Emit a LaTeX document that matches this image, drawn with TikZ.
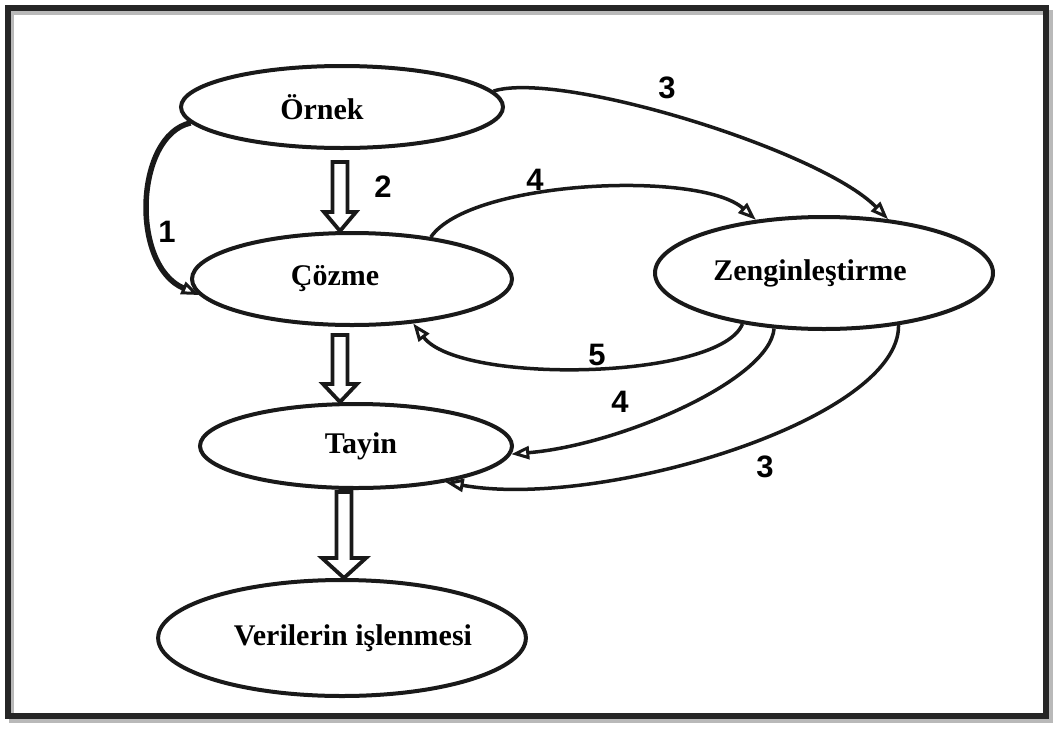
\documentclass[tikz,border=0pt]{standalone}
\usepackage{fontspec}
\setmainfont{Liberation Serif}
\newfontfamily\lsans{Liberation Sans}
\usetikzlibrary{shapes.geometric,arrows.meta,calc}
\tikzset{
  oval/.style={ellipse, draw=black!90, line width=4pt, inner sep=0pt,
    font=\fontsize{30}{30}\selectfont\bfseries},
  conn/.style={draw=black!90, line width=3.5pt,
    -{Triangle[open, length=18pt, width=13pt, line width=3pt]}},
  num/.style={font=\lsans\fontsize{31}{31}\selectfont\bfseries, inner sep=0pt},
  blockline/.style={draw=black!90, line width=3.8pt, fill=white, line join=miter},
}
\newcommand\blockarr[4]{% start, end, head half width, head length
  \draw[blockline] let \p1=(#1), \p2=(#2) in
    (\x1-7.5pt,\y1) -- (\x1-7.5pt,\y2+#4) -- (\x1-#3,\y2+#4) -- (\x2,\y2)
    -- (\x1+#3,\y2+#4) -- (\x1+7.5pt,\y2+#4) -- (\x1+7.5pt,\y1) -- cycle;}
\begin{document}
\begin{tikzpicture}[x=1pt,y=-1pt]
\useasboundingbox (0,0) rectangle (1058,729);
% frame
\draw[gray!55, line width=5pt] (11,12) rectangle (1050,720);
\draw[black!85, line width=6pt] (8,8) rectangle (1046,716);

% nodes
\node[oval, minimum width=322pt, minimum height=82pt] (orn) at (342,107) {\hspace*{-40pt}Örnek};
\node[oval, minimum width=320pt, minimum height=92pt] (coz) at (352,279) {\hspace*{-34pt}Çözme};
\node[oval, minimum width=338pt, minimum height=112pt] (zen) at (824,273) {\hspace*{-28pt}Zenginleştirme};
\node[oval, minimum width=312pt, minimum height=84pt] (tay) at (356,446) {\hspace*{10pt}Tayin};
\node[oval, minimum width=330pt, minimum height=116pt] (ver) at (342,638) {\hspace*{22pt}Verilerin işlenmesi};

% block arrows
\coordinate (b1s) at (340,162);
\coordinate (b2s) at (340,335);
\coordinate (b3s) at (344,492);
\blockarr{b1s}{coz.north -| b1s}{16pt}{19pt}
\blockarr{b2s}{tay.north -| b2s}{17pt}{18pt}
\blockarr{b3s}{ver.north -| b3s}{22pt}{20pt}

% curved connectors
\draw[conn, line width=5.5pt] (orn.186) .. controls (135,135) and (130,265) .. (coz.186);
\draw[conn] (orn.6) .. controls (560,70) and (820,150) .. (zen.40);
\draw[conn] (coz.28) .. controls (470,180) and (700,170) .. (zen.142);
\draw[conn] (zen.212) .. controls (720,380) and (460,385) .. (coz.324);
\draw[conn] (zen.228) .. controls (770,380) and (620,445) .. (tay.357);
\draw[conn] (zen.325) .. controls (900,420) and (600,510) .. (tay.338);

% labels
\node[num] (l1) at (167,232) {1};
\node[num] (l2) at (383,187) {2};
\node[num] (l3a) at (667,88) {3};
\node[num] (l4a) at (535,180) {4};
\node[num] (l5) at (597,355) {5};
\node[num] (l4b) at (620,402) {4};
\node[num] (l3b) at (765,467) {3};
\end{tikzpicture}
\end{document}
